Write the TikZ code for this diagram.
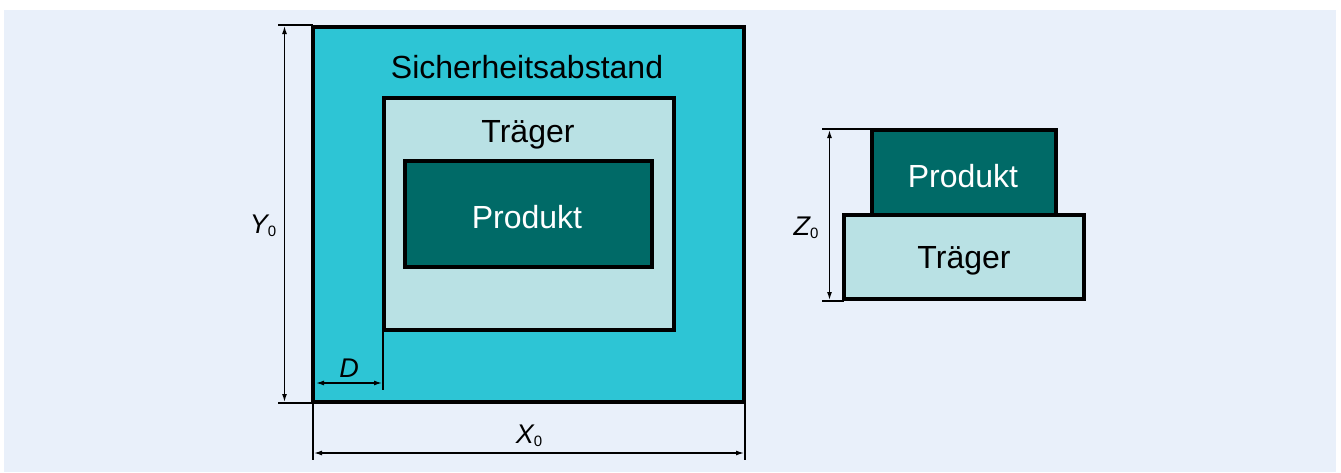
\documentclass[tikz,border=0pt]{standalone}
\usepackage{fontspec}
\setmainfont{Liberation Sans}
\usetikzlibrary{arrows.meta}
\definecolor{bgpanel}{HTML}{E9F0FA}
\definecolor{safecol}{HTML}{2DC5D5}
\definecolor{tragcol}{HTML}{B9E1E4}
\definecolor{prodcol}{HTML}{006A67}
\newcommand{\dimlab}[1]{{\fontsize{27}{27}\selectfont\itshape #1}{\fontsize{15}{15}\selectfont\raisebox{-3pt}{0}}}
\begin{document}
\begin{tikzpicture}[x=1pt,y=-1pt,
  boxbase/.style={draw=black,line width=3.8pt,inner sep=0pt,outer sep=0pt},
  safebox/.style={boxbase,fill=safecol,line width=4pt},
  tragbox/.style={boxbase,fill=tragcol},
  prodbox/.style={boxbase,fill=prodcol},
  bigtext/.style={font=\fontsize{32}{32}\selectfont},
  dimline/.style={line width=1.3pt,{Latex[length=8pt,width=5pt]}-{Latex[length=8pt,width=5pt]}},
  extline/.style={line width=1.1pt}]
\useasboundingbox (0,0) rectangle (1341,472);
\fill[white] (0,0) rectangle (1341,472);
\fill[bgpanel] (4,10) rectangle (1336,472);
% left view
\node[safebox,minimum width=431pt,minimum height=375pt] (safe) at (528.5,214.5) {};
\node[tragbox,minimum width=290pt,minimum height=232pt] (trag) at (529,214) {};
\node[prodbox,minimum width=247pt,minimum height=106pt] (prod) at (528.5,214) {};
\node[bigtext] (tsafe) at (527,67) {Sicherheitsabstand};
\node[bigtext] (ttrag) at (528,135) {Träger};
\node[bigtext,text=white] (tprod) at (527,217) {Produkt};
% Y0
\coordinate (yt0) at (278,25);
\coordinate (yt1) at (313,25);
\coordinate (yb0) at (278,403);
\coordinate (yb1) at (313,403);
\coordinate (ya) at (284.5,26);
\coordinate (yb) at (284.5,402);
\draw[extline] (yt0) -- (yt1);
\draw[extline] (yb0) -- (yb1);
\draw[dimline] (ya) -- (yb);
\node (ylab) at (263,226) {\dimlab{Y}};
% X0
\coordinate (xl0) at (313,403);
\coordinate (xl1) at (313,460);
\coordinate (xr0) at (745,403);
\coordinate (xr1) at (745,460);
\coordinate (xa) at (314,453);
\coordinate (xb) at (744,453);
\draw[extline] (xl0) -- (xl1);
\draw[extline] (xr0) -- (xr1);
\draw[dimline] (xa) -- (xb);
\node (xlab) at (529,436) {\dimlab{X}};
% D
\coordinate (d0) at (383,330);
\coordinate (d1) at (383,390);
\coordinate (da) at (316,383);
\coordinate (db) at (382,383);
\draw[extline] (d0) -- (d1);
\draw[dimline] (da) -- (db);
\node[font=\fontsize{27}{27}\selectfont\itshape] (dlab) at (349,368) {D};
% right view
\node[tragbox,minimum width=240pt,minimum height=84pt] (trag2) at (964,257) {};
\node[prodbox,minimum width=184pt,minimum height=85pt] (prod2) at (964,172.5) {};
\node[bigtext] (ttrag2) at (964,261) {Träger};
\node[bigtext,text=white] (tprod2) at (963,176) {Produkt};
\coordinate (zt0) at (822,129);
\coordinate (zt1) at (872,129);
\coordinate (zb0) at (822,301);
\coordinate (zb1) at (844,301);
\coordinate (za) at (829.5,130);
\coordinate (zb) at (829.5,300);
\draw[extline] (zt0) -- (zt1);
\draw[extline] (zb0) -- (zb1);
\draw[dimline] (za) -- (zb);
\node (zlab) at (806,228) {\dimlab{Z}};
\end{tikzpicture}
\end{document}
